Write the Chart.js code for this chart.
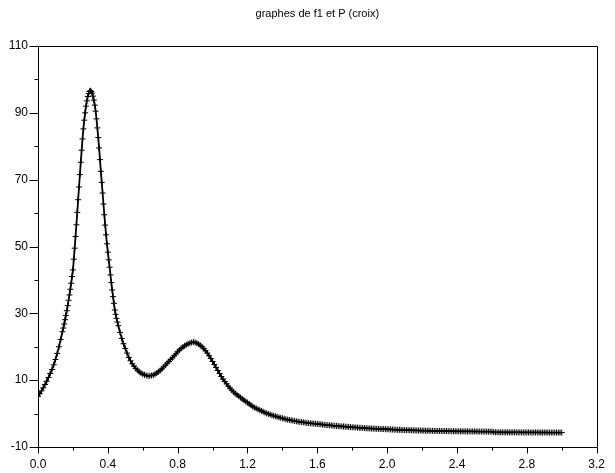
<!DOCTYPE html>
<html>
<head>
<meta charset="utf-8">
<script src="https://cdn.jsdelivr.net/npm/chart.js@4"></script>
<style>
  html, body { margin: 0; padding: 0; background: #fff; }
  canvas { display: block; }
</style>
</head>
<body>
<canvas id="c" width="615" height="473"></canvas>
<script>
// ---- data ----
const titleText = "graphes de f1 et P (croix)";

const xValues = [
  0.00, 0.01, 0.02, 0.03, 0.04, 0.05, 0.06, 0.07, 0.08, 0.09,
  0.10, 0.11, 0.12, 0.13, 0.14,
  0.145, 0.150, 0.155, 0.160, 0.165, 0.170, 0.175, 0.180, 0.185, 0.190,
  0.195, 0.200, 0.205, 0.210, 0.215, 0.220, 0.225, 0.230, 0.235, 0.240,
  0.245, 0.250, 0.255, 0.260, 0.265, 0.270, 0.275, 0.280, 0.285, 0.290,
  0.295, 0.300, 0.305, 0.310, 0.315, 0.320, 0.325, 0.330, 0.335, 0.340,
  0.345, 0.350, 0.355, 0.360, 0.365, 0.370, 0.375, 0.380, 0.385, 0.390,
  0.395, 0.400, 0.405, 0.410, 0.415, 0.420, 0.425, 0.430, 0.435, 0.440,
  0.445, 0.450, 0.455,
  0.46, 0.47, 0.48, 0.49,
  0.50, 0.51, 0.52, 0.53, 0.54, 0.55, 0.56, 0.57, 0.58, 0.59,
  0.60, 0.61, 0.62, 0.63, 0.64, 0.65, 0.66, 0.67, 0.68, 0.69,
  0.70, 0.71, 0.72, 0.73, 0.74, 0.75, 0.76, 0.77, 0.78, 0.79,
  0.80, 0.81, 0.82, 0.83, 0.84, 0.85, 0.86, 0.87, 0.88, 0.89,
  0.90, 0.91, 0.92, 0.93, 0.94, 0.95, 0.96, 0.97, 0.98, 0.99,
  1.00, 1.01, 1.02, 1.03, 1.04, 1.05, 1.06, 1.07, 1.08, 1.09,
  1.10, 1.11, 1.12, 1.13, 1.14, 1.15, 1.16, 1.17, 1.18, 1.19,
  1.20, 1.21, 1.22, 1.23, 1.24, 1.25, 1.26, 1.27, 1.28, 1.29,
  1.30, 1.31, 1.32, 1.33, 1.34, 1.35, 1.36, 1.37, 1.38, 1.39,
  1.40, 1.41, 1.42, 1.43, 1.44, 1.45, 1.46, 1.47, 1.48, 1.49,
  1.50, 1.51, 1.52, 1.53, 1.54, 1.55, 1.56, 1.57, 1.58, 1.59,
  1.60, 1.61, 1.62, 1.63, 1.64, 1.65, 1.66, 1.67, 1.68, 1.69,
  1.70, 1.71, 1.72, 1.73, 1.74, 1.75, 1.76, 1.77, 1.78, 1.79,
  1.80, 1.81, 1.82, 1.83, 1.84, 1.85, 1.86, 1.87, 1.88, 1.89,
  1.90, 1.91, 1.92, 1.93, 1.94, 1.95, 1.96, 1.97, 1.98, 1.99,
  2.00, 2.01, 2.02, 2.03, 2.04, 2.05, 2.06, 2.07, 2.08, 2.09,
  2.10, 2.11, 2.12, 2.13, 2.14, 2.15, 2.16, 2.17, 2.18, 2.19,
  2.20, 2.21, 2.22, 2.23, 2.24, 2.25, 2.26, 2.27, 2.28, 2.29,
  2.30, 2.31, 2.32, 2.33, 2.34, 2.35, 2.36, 2.37, 2.38, 2.39,
  2.40, 2.41, 2.42, 2.43, 2.44, 2.45, 2.46, 2.47, 2.48, 2.49,
  2.50, 2.51, 2.52, 2.53, 2.54, 2.55, 2.56, 2.57, 2.58, 2.59,
  2.60, 2.61, 2.62, 2.63, 2.64, 2.65, 2.66, 2.67, 2.68, 2.69,
  2.70, 2.71, 2.72, 2.73, 2.74, 2.75, 2.76, 2.77, 2.78, 2.79,
  2.80, 2.81, 2.82, 2.83, 2.84, 2.85, 2.86, 2.87, 2.88, 2.89,
  2.90, 2.91, 2.92, 2.93, 2.94, 2.95, 2.96, 2.97, 2.98, 2.99,
  3.00
];

const fValues = [
  5.1, 5.9, 6.8, 7.7, 8.7, 9.7, 10.8, 12.0, 13.2, 14.6,
  16.2, 18.0, 20.0, 22.2, 24.5,
  25.6, 26.8, 28.1, 29.4, 30.8, 32.3, 33.9, 35.5, 37.2, 39.0,
  41.0, 43.0, 46.2, 49.5, 53.0, 56.5, 60.2, 64.0, 67.8, 71.5,
  75.2, 78.8, 82.2, 85.2, 87.8, 90.0, 92.0, 93.6, 94.9, 95.8,
  96.4, 96.6, 96.4, 95.9, 95.0, 93.8, 92.3, 90.5, 88.2, 85.5,
  82.6, 79.5, 76.0, 72.5, 69.2, 66.0, 62.7, 59.5, 56.4, 53.5,
  50.8, 48.3, 46.0, 43.8, 41.5, 39.2, 37.0, 35.0, 33.0, 31.0,
  29.7, 28.5, 27.4,
  26.3, 24.3, 22.5, 20.9,
  19.5, 18.1, 16.8, 15.8, 14.9, 14.2, 13.5, 13.0, 12.5, 12.1,
  11.8, 11.6, 11.4, 11.3, 11.3, 11.4, 11.5, 11.8, 12.1, 12.5,
  12.9, 13.4, 14.0, 14.5, 15.1, 15.6, 16.2, 16.7, 17.3, 17.9,
  18.5, 19.0, 19.5, 19.9, 20.3, 20.6, 20.9, 21.1, 21.3, 21.4,
  21.3, 21.1, 20.8, 20.4, 20.0, 19.4, 18.8, 18.1, 17.3, 16.5,
  15.6, 14.7, 13.8, 12.9, 12.0, 11.1, 10.3, 9.6, 8.9, 8.2,
  7.6, 7.0, 6.5, 6.0, 5.6, 5.2, 4.8, 4.4, 4.0, 3.6,
  3.3, 2.9, 2.5, 2.1, 1.8, 1.55, 1.3, 1.05, 0.8, 0.55,
  0.3, 0.1, -0.1, -0.3, -0.5, -0.65, -0.8, -0.95, -1.1, -1.25,
  -1.4, -1.55, -1.7, -1.8, -1.9, -2.0, -2.1, -2.2, -2.3, -2.4,
  -2.5, -2.55, -2.6, -2.7, -2.8, -2.85, -2.9, -2.95, -3.0, -3.05,
  -3.1, -3.15, -3.2, -3.3, -3.35, -3.4, -3.45, -3.5, -3.55, -3.6,
  -3.65, -3.7, -3.75, -3.8, -3.85, -3.87, -3.9, -3.95, -4.0, -4.05,
  -4.1, -4.12, -4.15, -4.2, -4.25, -4.27, -4.3, -4.35, -4.4, -4.42,
  -4.45, -4.47, -4.5, -4.52, -4.55, -4.57, -4.6, -4.62, -4.65, -4.67,
  -4.7, -4.72, -4.75, -4.77, -4.8, -4.82, -4.85, -4.87, -4.9, -4.92,
  -4.95, -4.95, -4.97, -4.98, -5.0, -5.02, -5.05, -5.05, -5.06, -5.08,
  -5.1, -5.1, -5.11, -5.12, -5.14, -5.15, -5.16, -5.18, -5.19, -5.2,
  -5.2, -5.21, -5.22, -5.23, -5.24, -5.25, -5.26, -5.27, -5.28, -5.29,
  -5.3, -5.3, -5.31, -5.32, -5.32, -5.33, -5.34, -5.34, -5.35, -5.35,
  -5.36, -5.36, -5.37, -5.37, -5.38, -5.38, -5.39, -5.39, -5.4, -5.4,
  -5.4, -5.55, -5.6, -5.6, -5.6, -5.6, -5.61, -5.61, -5.61, -5.62,
  -5.62, -5.62, -5.62, -5.63, -5.63, -5.63, -5.63, -5.64, -5.64, -5.64,
  -5.64, -5.64, -5.65, -5.65, -5.65, -5.65, -5.65, -5.66, -5.66, -5.66,
  -5.66, -5.66, -5.67, -5.67, -5.67, -5.67, -5.67, -5.68, -5.68, -5.68,
  -5.68
];

const xTickValues = [0.0, 0.4, 0.8, 1.2, 1.6, 2.0, 2.4, 2.8, 3.2];
const xMinorTicks = [0.2, 0.6, 1.0, 1.4, 1.8, 2.2, 2.6, 3.0];
const yTickValues = [-10, 10, 30, 50, 70, 90, 110];
const yMinorTicks = [0, 20, 40, 60, 80, 100];

// ---- chart ----
const points = xValues.map((x, i) => ({ x: x, y: fValues[i] }));
const FONT = "'Liberation Sans', Arial, Helvetica, sans-serif";

const frameAndTicks = {
  id: 'frameAndTicks',
  afterDraw(chart) {
    const ctx = chart.ctx;
    const a = chart.chartArea;
    const xs = chart.scales.x, ys = chart.scales.y;
    ctx.save();
    ctx.strokeStyle = '#000';
    ctx.lineWidth = 1;
    ctx.beginPath();
    ctx.moveTo(Math.round(a.left) + 0.5, Math.round(a.top) + 0.5);
    ctx.lineTo(Math.round(a.right) + 0.5, Math.round(a.top) + 0.5);
    ctx.lineTo(Math.round(a.right) + 0.5, Math.round(a.bottom) + 0.5);
    const by = Math.round(a.bottom) + 0.5;
    xTickValues.forEach(v => {
      const px = Math.round(xs.getPixelForValue(v)) + 0.5;
      ctx.moveTo(px, by); ctx.lineTo(px, by + 6);
    });
    xMinorTicks.forEach(v => {
      const px = Math.round(xs.getPixelForValue(v)) + 0.5;
      ctx.moveTo(px, by); ctx.lineTo(px, by + 3);
    });
    const lx = Math.round(a.left) + 0.5;
    yTickValues.forEach(v => {
      const py = Math.round(ys.getPixelForValue(v)) + 0.5;
      ctx.moveTo(lx, py); ctx.lineTo(lx - 9, py);
    });
    yMinorTicks.forEach(v => {
      const py = Math.round(ys.getPixelForValue(v)) + 0.5;
      ctx.moveTo(lx, py); ctx.lineTo(lx - 4, py);
    });
    ctx.stroke();
    ctx.restore();
  }
};

new Chart(document.getElementById('c'), {
  type: 'scatter',
  data: {
    datasets: [
      {
        label: 'f1',
        data: points,
        showLine: true,
        borderColor: '#000',
        borderWidth: 1.8,
        cubicInterpolationMode: 'monotone',
        pointRadius: 0,
        pointHoverRadius: 0
      },
      {
        label: 'P',
        data: points,
        showLine: false,
        pointStyle: 'cross',
        pointRadius: 3,
        pointBorderWidth: 1,
        pointBorderColor: '#000',
        pointBackgroundColor: '#000'
      }
    ]
  },
  options: {
    responsive: false,
    animation: false,
    layout: { padding: { left: 0, right: 9, top: 0, bottom: 0 } },
    plugins: {
      legend: { display: false },
      tooltip: { enabled: false },
      title: {
        display: true,
        text: titleText,
        fullSize: false,
        color: '#000',
        font: { family: FONT, size: 11, weight: 'normal', lineHeight: 1.2 },
        padding: { top: 7, bottom: 25.8 }
      }
    },
    scales: {
      x: {
        type: 'linear',
        min: 0,
        max: 3.2,
        afterBuildTicks(scale) { scale.ticks = xTickValues.map(v => ({ value: v })); },
        afterFit(scale) { scale.height = 26; },
        grid: { drawOnChartArea: false, drawTicks: false },
        border: { display: true, color: '#000', width: 1 },
        ticks: {
          autoSkip: false,
          maxRotation: 0,
          padding: 10,
          color: '#000',
          font: { family: FONT, size: 12 },
          callback: v => Number(v).toFixed(1)
        }
      },
      y: {
        type: 'linear',
        min: -10,
        max: 110,
        afterBuildTicks(scale) { scale.ticks = yTickValues.map(v => ({ value: v })); },
        afterFit(scale) { scale.width = 38; },
        grid: { drawOnChartArea: false, drawTicks: false },
        border: { display: true, color: '#000', width: 1 },
        ticks: {
          autoSkip: false,
          padding: 10,
          color: '#000',
          font: { family: FONT, size: 12 },
          callback: v => String(v)
        }
      }
    }
  },
  plugins: [frameAndTicks]
});
</script>
</body>
</html>
